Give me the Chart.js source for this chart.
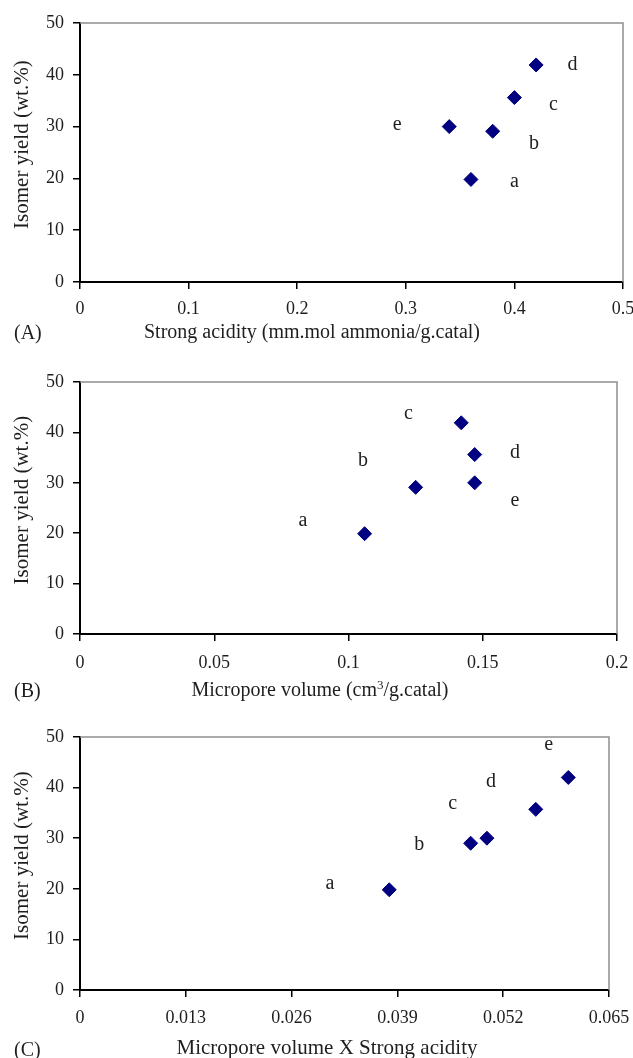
<html>
  <head>
    <meta charset="utf-8" />
    <title>Isomer yield vs catalyst properties</title>
    <style>
      body {
        margin: 0;
        padding: 0;
        background: #fff;
        width: 633px;
        height: 1058px;
        overflow: hidden;
        position: relative;
        font-family: "Liberation Serif", "Times New Roman", serif;
        color: #1e1e1e;
      }
      canvas {
        position: absolute;
        left: 0;
      }
      .caption {
        position: absolute;
        font-size: 20px;
        line-height: 24px;
        white-space: nowrap;
        transform: translateX(-50%);
      }
      .tag {
        position: absolute;
        left: 14px;
        font-size: 20px;
        line-height: 24px;
      }
      sup {
        font-size: 13px;
        line-height: 0;
        vertical-align: 7px;
      }
    </style>
    <script src="https://cdn.jsdelivr.net/npm/chart.js"></script>
  </head>
  <body>
    <canvas id="chartA" width="660" height="345" style="top:0"></canvas>
    <canvas id="chartB" width="660" height="360" style="top:345px"></canvas>
    <canvas id="chartC" width="660" height="353" style="top:705px"></canvas>

    <div class="tag" style="top:320px">(A)</div>
    <div class="caption" style="left:312px;top:319px">Strong acidity (mm.mol ammonia/g.catal)</div>
    <div class="tag" style="top:678px">(B)</div>
    <div class="caption" style="left:320px;top:677px">Micropore volume (cm<sup>3</sup>/g.catal)</div>
    <div class="tag" style="top:1037px">(C)</div>
    <div class="caption" style="left:327px;top:1035px;font-size:21px">Micropore volume X Strong acidity</div>

    <script>
      // samples a..e
      const samples = ["a", "b", "c", "d", "e"];

      // (A) strong acidity
      const strongAcidity = [0.36, 0.38, 0.40, 0.42, 0.34];
      const yieldA = [19.8, 29.1, 35.6, 41.9, 30.0];
      const letterXA = [0.400, 0.418, 0.436, 0.4535, 0.292];
      const letterYA = [19.3, 26.7, 34.3, 41.9, 30.4];
      const xTicksA = [0, 0.1, 0.2, 0.3, 0.4, 0.5];

      // (B) micropore volume
      const microporeVolume = [0.106, 0.125, 0.147, 0.142, 0.147];
      const yieldB = [19.9, 29.1, 35.6, 41.9, 30.0];
      const letterXB = [0.083, 0.1054, 0.1223, 0.162, 0.162];
      const letterYB = [22.5, 34.3, 43.7, 35.9, 26.5];
      const xTicksB = [0, 0.05, 0.1, 0.15, 0.2];

      // (C) micropore volume x strong acidity
      const volumeTimesAcidity = [0.038, 0.048, 0.056, 0.060, 0.050];
      const yieldC = [19.8, 29.0, 35.7, 42.0, 30.0];
      const letterXC = [0.0307, 0.0417, 0.0458, 0.0505, 0.0576];
      const letterYC = [21.0, 28.8, 36.9, 41.2, 48.5];
      const xTicksC = [0, 0.013, 0.026, 0.039, 0.052, 0.065];

      const yTicks = [0, 10, 20, 30, 40, 50];

      const serif = '"Liberation Serif", "Times New Roman", serif';

      // grey top/right frame and the sample letters
      const frameLetters = {
        id: "frameLetters",
        afterDatasetsDraw(chart, args, opts) {
          const { ctx, chartArea: a } = chart;
          const x = chart.scales.x;
          const y = chart.scales.y;
          ctx.save();
          ctx.strokeStyle = "#8f8f8f";
          ctx.lineWidth = 1.5;
          ctx.beginPath();
          ctx.moveTo(a.left, a.top);
          ctx.lineTo(a.right, a.top);
          ctx.lineTo(a.right, a.bottom);
          ctx.stroke();

          ctx.font = "20px " + serif;
          ctx.fillStyle = "#1e1e1e";
          ctx.textAlign = "center";
          ctx.textBaseline = "middle";
          samples.forEach((s, i) => {
            ctx.fillText(s, x.getPixelForValue(opts.lx[i]), y.getPixelForValue(opts.ly[i]));
          });
          ctx.restore();
        },
      };

      function makeChart(id, xs, ys, xTicks, lx, ly, padTop, padRight, axisH, tickPad) {
        const ctx = document.getElementById(id).getContext("2d");
        return new Chart(ctx, {
          type: "scatter",
          data: {
            datasets: [
              {
                data: xs.map((v, i) => ({ x: v, y: ys[i] })),
                pointStyle: "rectRot",
                pointRadius: 7,
                backgroundColor: "#000080",
                borderColor: "#000080",
                borderWidth: 1,
              },
            ],
          },
          options: {
            responsive: false,
            animation: false,
            layout: { padding: { top: padTop, right: padRight, left: 0, bottom: 0 } },
            plugins: {
              legend: { display: false },
              tooltip: { enabled: false },
              frameLetters: { lx: lx, ly: ly },
            },
            scales: {
              x: {
                type: "linear",
                min: xTicks[0],
                max: xTicks[xTicks.length - 1],
                afterBuildTicks: (s) => {
                  s.ticks = xTicks.map((v) => ({ value: v }));
                },
                afterFit: (s) => {
                  s.height = axisH;
                },
                ticks: {
                  callback: (v) => String(v),
                  font: { family: serif, size: 18 },
                  color: "#1e1e1e",
                  padding: tickPad,
                  maxRotation: 0,
                  autoSkip: false,
                },
                grid: {
                  display: true,
                  drawOnChartArea: false,
                  drawTicks: true,
                  tickLength: 7,
                  color: "#000",
                  lineWidth: 1.5,
                },
                border: { display: true, color: "#000", width: 2 },
              },
              y: {
                type: "linear",
                min: 0,
                max: 50,
                afterBuildTicks: (s) => {
                  s.ticks = yTicks.map((v) => ({ value: v }));
                },
                afterFit: (s) => {
                  s.width = 80;
                },
                ticks: {
                  font: { family: serif, size: 18 },
                  color: "#1e1e1e",
                  padding: 9,
                },
                grid: {
                  display: true,
                  drawOnChartArea: false,
                  drawTicks: true,
                  tickLength: 7,
                  color: "#000",
                  lineWidth: 1.5,
                },
                border: { display: true, color: "#000", width: 2 },
                title: {
                  display: true,
                  // leading spaces lift the rotated title a little above the axis centre
                  text: "   Isomer yield (wt.%)",
                  font: { family: serif, size: 21 },
                  color: "#1e1e1e",
                  padding: { top: 10, bottom: 0 },
                },
              },
            },
          },
          plugins: [frameLetters],
        });
      }

      makeChart("chartA", strongAcidity, yieldA, xTicksA, letterXA, letterYA, 23, 37, 63, 9);
      makeChart("chartB", microporeVolume, yieldB, xTicksB, letterXB, letterYB, 37, 43, 71, 11);
      makeChart("chartC", volumeTimesAcidity, yieldC, xTicksC, letterXC, letterYC, 32, 51, 68, 10);
    </script>
  </body>
</html>
